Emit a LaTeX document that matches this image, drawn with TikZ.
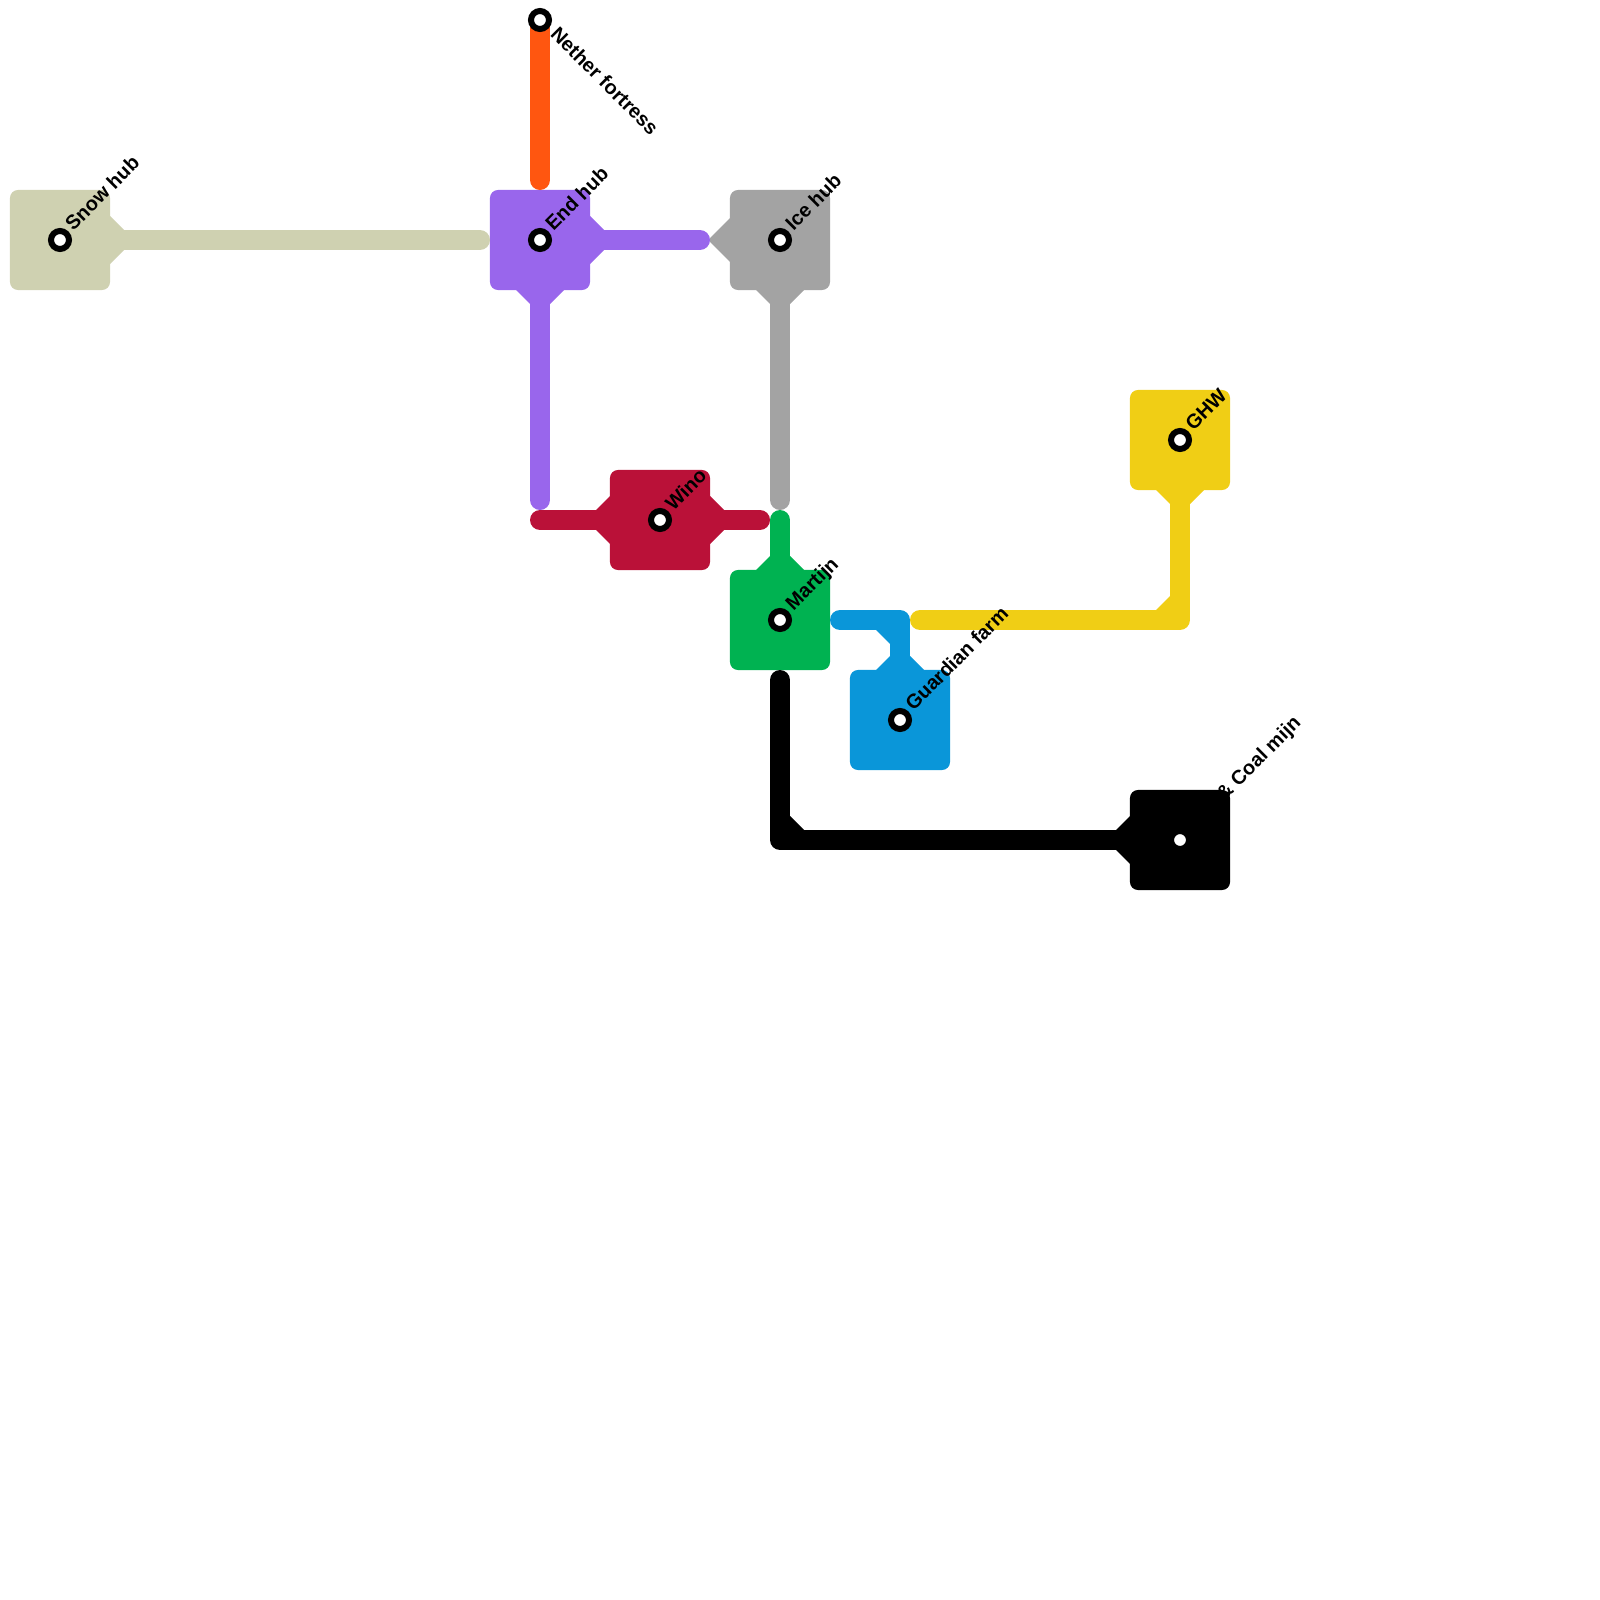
\documentclass[tikz,border=0pt]{standalone}
\usepackage{fontspec}
\setmainfont{Liberation Sans}
\usetikzlibrary{positioning}
\definecolor{snowcol}{HTML}{CFD1B1}
\definecolor{endcol}{HTML}{9966EC}
\definecolor{icecol}{HTML}{A3A3A3}
\definecolor{netherol}{HTML}{FF5610}
\definecolor{winocol}{HTML}{BA1138}
\definecolor{martijncol}{HTML}{00B251}
\definecolor{guardcol}{HTML}{0A96D9}
\definecolor{ghwcol}{HTML}{F0CE15}
\newcommand{\taper}[3]{\fill[#1,shift={(#2)},rotate=#3] (50,-24) -- (64,-10) -- (64,10) -- (50,24) -- cycle;}
\begin{document}
\begin{tikzpicture}[x=0.01cm,y=-0.01cm,
  hub/.style={minimum size=1cm,inner sep=0pt,rounded corners=0.08cm},
  route/.style={line width=0.2cm,line cap=round,line join=round},
  stop/.style={circle,draw=black,fill=white,line width=0.06cm,minimum size=0.18cm,inner sep=0pt},
  tag/.style={font=\fontsize{5.65}{7}\selectfont\bfseries,text=black,inner sep=0pt,rotate=45,anchor=base west}]
\useasboundingbox (0,0) rectangle (1600,1600);
\coordinate (snowend) at (480,240);
\coordinate (endend) at (700,240);
\coordinate (netherend) at (540,180);
\coordinate (endsouth) at (540,500);
\coordinate (icesouth) at (780,500);
\coordinate (winowest) at (540,520);
\coordinate (winoeast) at (760,520);
\coordinate (martijnnorth) at (780,520);
\coordinate (guardwest) at (840,620);
\coordinate (guardbend) at (900,620);
\coordinate (ghwwest) at (920,620);
\coordinate (ghwbend) at (1180,620);
\coordinate (coalnorth) at (780,680);
\coordinate (coalbend) at (780,840);
\node[hub,fill=snowcol] (snow) at (60,240) {};
\node[hub,fill=endcol] (endhub) at (540,240) {};
\node[hub,fill=icecol] (ice) at (780,240) {};
\node[hub,fill=winocol] (wino) at (660,520) {};
\node[hub,fill=martijncol] (martijn) at (780,620) {};
\node[hub,fill=guardcol] (guardian) at (900,720) {};
\node[hub,fill=ghwcol] (ghw) at (1180,440) {};
\node[hub,fill=black] (coal) at (1180,840) {};
\taper{snowcol}{snow}{0}
\taper{endcol}{endhub}{0}
\taper{endcol}{endhub}{-90}
\fill[icecol] (730,218) -- (710,238) -- (710,242) -- (730,262) -- cycle;
\taper{icecol}{ice}{-90}
\taper{winocol}{wino}{0}
\taper{winocol}{wino}{180}
\taper{martijncol}{martijn}{90}
\taper{guardcol}{guardian}{90}
\taper{ghwcol}{ghw}{-90}
\taper{black}{coal}{180}
\draw[route,snowcol] (snow.center) -- (snowend);
\draw[route,netherol] (540,20) node (nether) {} -- (netherend);
\draw[route,endcol] (endhub.center) -- (endend);
\draw[route,endcol] (endhub.center) -- (endsouth);
\draw[route,icecol] (ice.center) -- (icesouth);
\draw[route,winocol] (winowest) -- (winoeast);
\draw[route,martijncol] (martijnnorth) -- (martijn.center);
\draw[route,guardcol] (guardwest) -- (guardbend) -- (guardian.center);
\fill[guardcol] (876,630) -- (890,630) -- (890,644) -- cycle;
\draw[route,ghwcol] (ghwwest) -- (ghwbend) -- (ghw.center);
\fill[ghwcol] (1156,610) -- (1170,610) -- (1170,596) -- cycle;
\draw[route] (coalnorth) -- (coalbend) -- (coal.center);
\fill[black] (790,816) -- (790,830) -- (804,830) -- cycle;
\node[stop] at (snow) {};
\node[stop] at (nether) {};
\node[stop] at (endhub) {};
\node[stop] at (ice) {};
\node[stop] at (wino) {};
\node[stop] at (martijn) {};
\node[stop] at (guardian) {};
\node[stop] at (ghw) {};
\node[stop] at (coal) {};
\node[tag] at (73,232) {Snow hub};
\node[tag] at (553,232) {End hub};
\node[tag] at (793,232) {Ice hub};
\node[tag] at (673,512) {Wino};
\node[tag] at (793,612) {Martijn};
\node[tag] at (913,712) {Guardian farm};
\node[tag] at (1193,432) {GHW};
\node[tag] at (1224,802) {\& Coal mijn};
\node[tag,rotate=-90] at (549,35) {Nether fortress};
\end{tikzpicture}
\end{document}
